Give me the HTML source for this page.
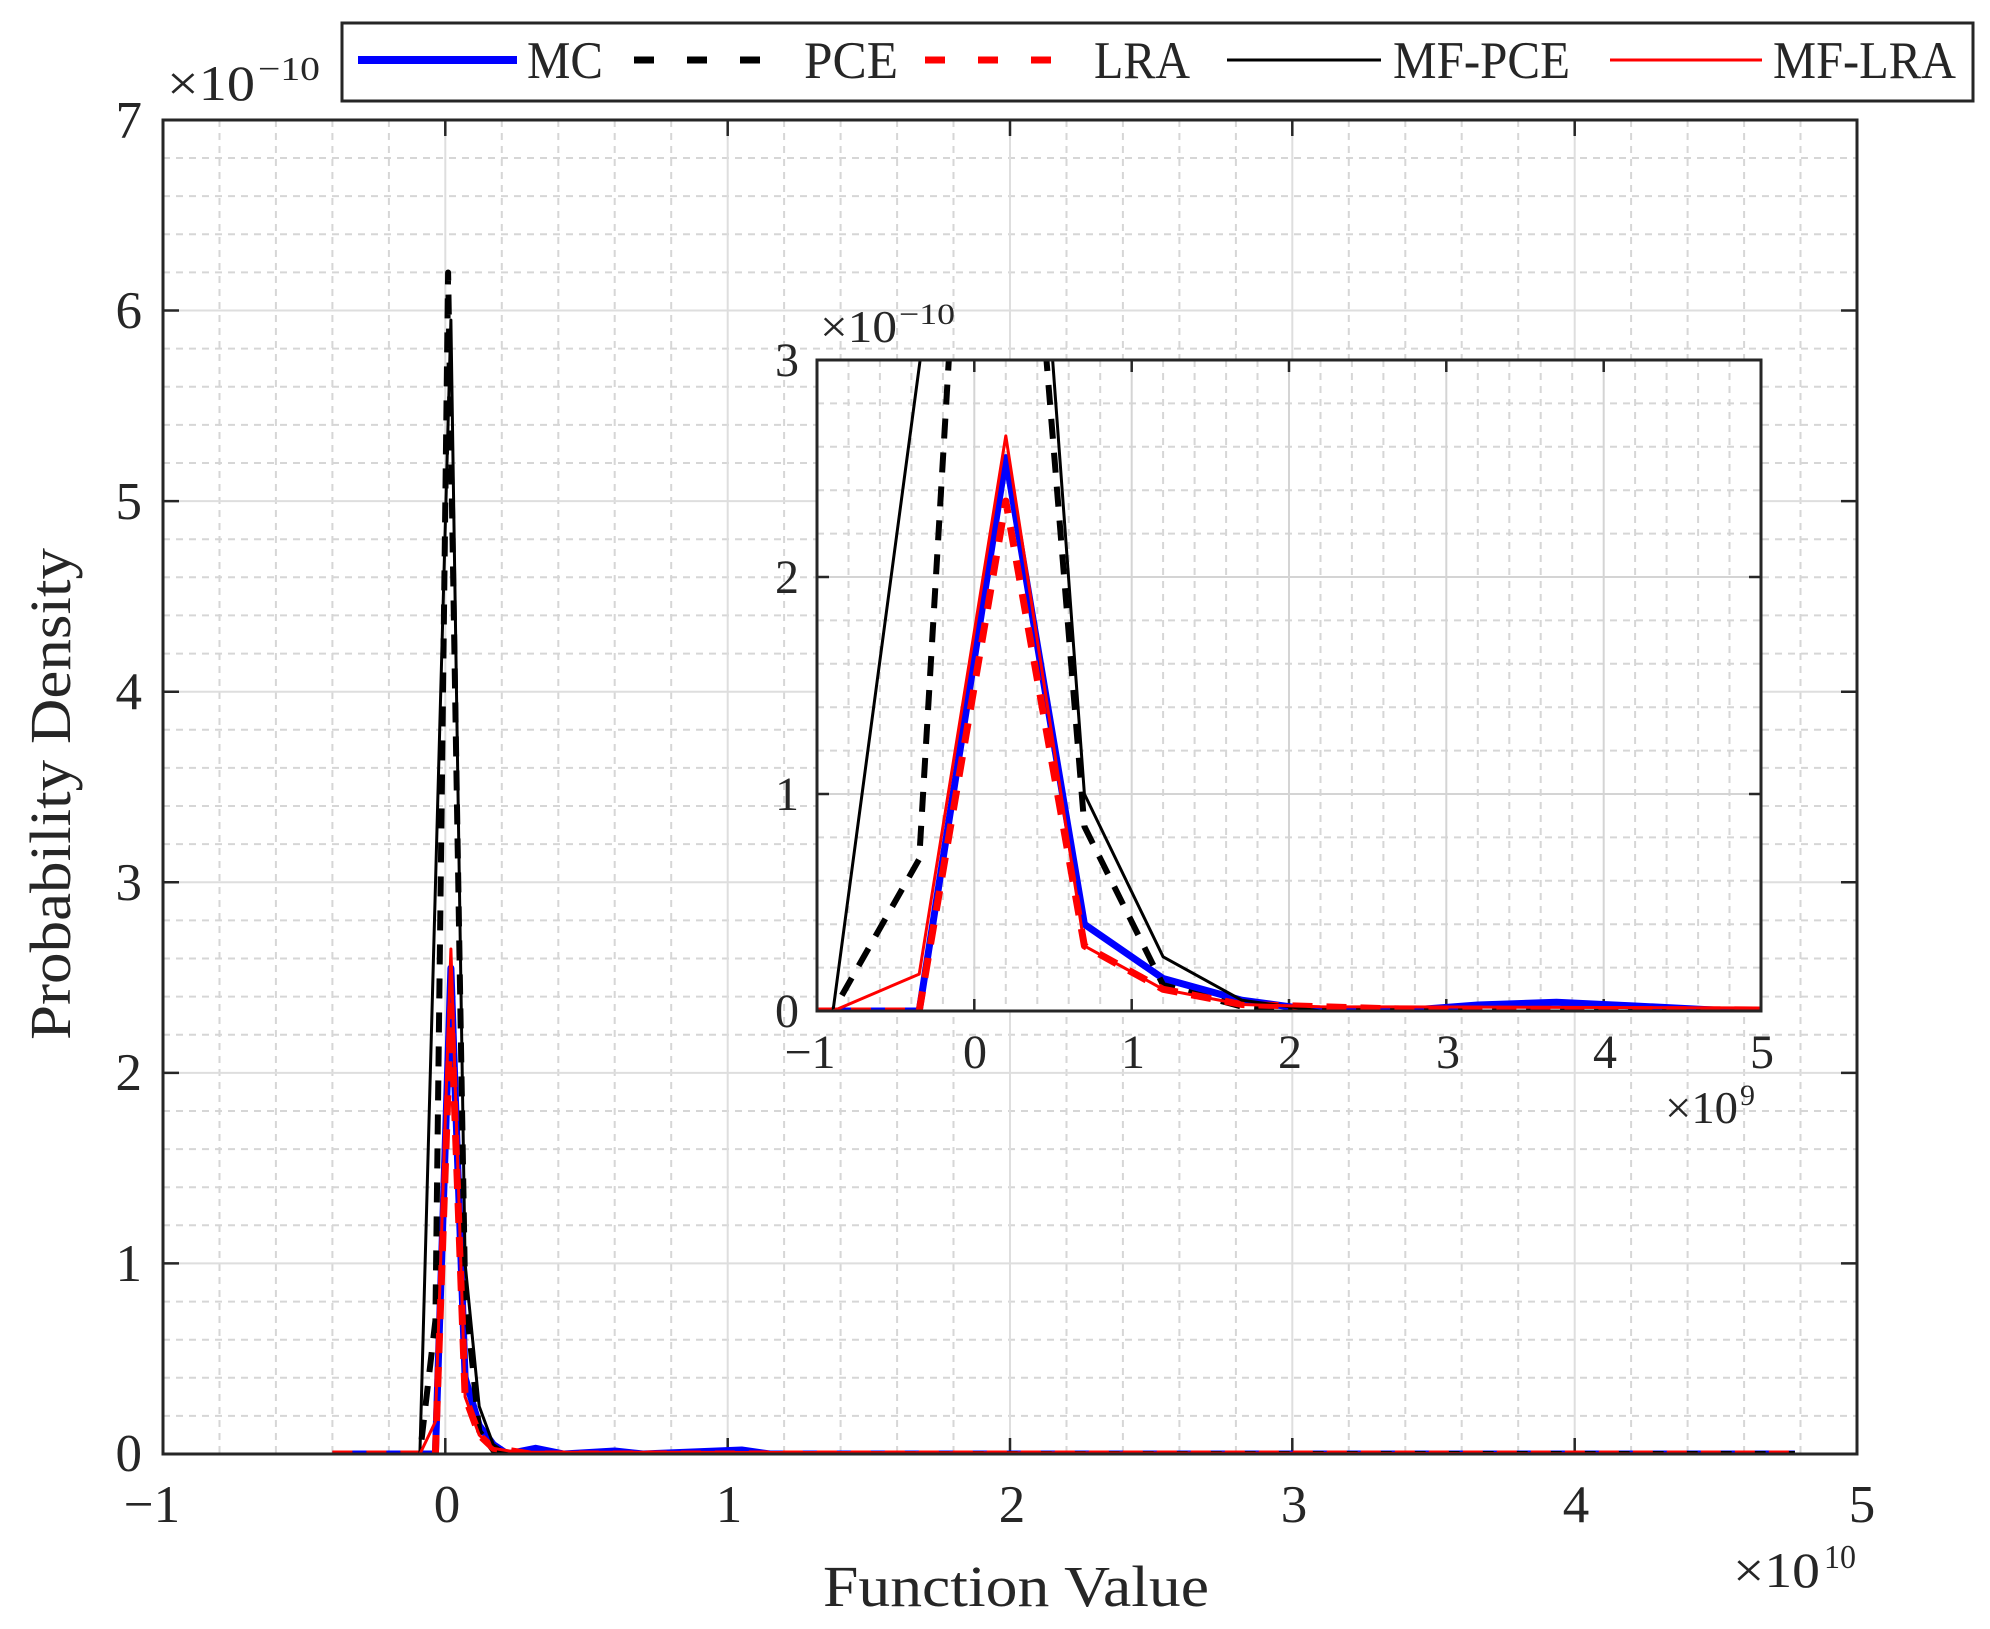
<!DOCTYPE html>
<html><head><meta charset="utf-8"><style>
html,body{margin:0;padding:0;background:#fff;}
svg{display:block;}
text{font-family:"Liberation Serif",serif;fill:#262626;}
</style></head><body>
<svg width="1990" height="1629" viewBox="0 0 1990 1629" xmlns="http://www.w3.org/2000/svg">
<defs>
<clipPath id="cm"><rect x="163" y="120" width="1694" height="1334"/></clipPath>
<clipPath id="ci"><rect x="817" y="360" width="944" height="651"/></clipPath>
</defs>
<rect width="1990" height="1629" fill="#fff"/>
<path stroke="#d6d6d6" stroke-width="2" stroke-dasharray="7,6" fill="none" d="
M219.5,120V1454 M275.9,120V1454 M332.4,120V1454 M388.9,120V1454 M501.8,120V1454 M558.3,120V1454 M614.7,120V1454 M671.2,120V1454 M784.1,120V1454 M840.6,120V1454 M897.1,120V1454 M953.5,120V1454 M1066.5,120V1454 M1122.9,120V1454 M1179.4,120V1454 M1235.9,120V1454 M1348.8,120V1454 M1405.3,120V1454 M1461.7,120V1454 M1518.2,120V1454 M1631.1,120V1454 M1687.6,120V1454 M1744.1,120V1454 M1800.5,120V1454
M163,1415.9H1857 M163,1377.8H1857 M163,1339.7H1857 M163,1301.6H1857 M163,1225.3H1857 M163,1187.2H1857 M163,1149.1H1857 M163,1111H1857 M163,1034.7H1857 M163,996.6H1857 M163,958.5H1857 M163,920.4H1857 M163,844.1H1857 M163,806H1857 M163,767.9H1857 M163,729.8H1857 M163,653.6H1857 M163,615.4H1857 M163,577.3H1857 M163,539.2H1857 M163,463H1857 M163,424.9H1857 M163,386.7H1857 M163,348.6H1857 M163,272.4H1857 M163,234.3H1857 M163,196.1H1857 M163,158H1857"/>
<path stroke="#dedede" stroke-width="2" fill="none" d="M445.3,120V1454 M727.7,120V1454 M1010,120V1454 M1292.3,120V1454 M1574.7,120V1454 M163,1263.4H1857 M163,1072.9H1857 M163,882.3H1857 M163,691.7H1857 M163,501.1H1857 M163,310.5H1857"/>
<path stroke="#262626" stroke-width="2.5" fill="none" d="M445.3,1454v-16 M727.7,1454v-16 M1010,1454v-16 M1292.3,1454v-16 M1574.7,1454v-16 M445.3,120v16 M727.7,120v16 M1010,120v16 M1292.3,120v16 M1574.7,120v16
M163,1263.4h16 M163,1072.9h16 M163,882.3h16 M163,691.7h16 M163,501.1h16 M163,310.5h16 M1857,1263.4h-16 M1857,1072.9h-16 M1857,882.3h-16 M1857,691.7h-16 M1857,501.1h-16 M1857,310.5h-16"/>
<g clip-path="url(#cm)" fill="none" stroke-linejoin="round">
<polyline stroke="#0000ff" stroke-width="7" points="332.4,1454 435.4,1454 450.9,968.1 465.1,1377.8 479.2,1425.4 493.3,1444.5 507.4,1454 535.6,1448.3 563.9,1454 614.7,1451 643,1454 741.7,1450 770,1454 1794.9,1454"/>
<polyline stroke="#000" stroke-width="6" stroke-dasharray="20,14" points="332.4,1454 419.9,1454 435.4,1320.6 448.1,272.5 465.1,1292 479.2,1431.1 493.3,1450.2 507.4,1454 1794.9,1454"/>
<polyline stroke="#ff0000" stroke-width="7" stroke-dasharray="20,14" points="332.4,1454 435.4,1454 450.9,1006.2 465.1,1396.8 479.2,1435 493.3,1448.3 507.4,1450.2 530,1454 1794.9,1454"/>
<polyline stroke="#000" stroke-width="3" points="332.4,1454 419.9,1454 450.9,320.1 465.1,1263.4 479.2,1406.4 493.3,1444.5 507.4,1454 1794.9,1454"/>
<polyline stroke="#ff0000" stroke-width="3" points="332.4,1454 419.9,1454 435.4,1421.6 450.9,949 465.1,1396.8 479.2,1435 493.3,1448.3 515.9,1452.1 1794.9,1454"/>
</g>
<rect x="163" y="120" width="1694" height="1334" fill="none" stroke="#262626" stroke-width="3"/>
<g font-size="53" text-anchor="end">
<text x="142" y="1471">0</text><text x="142" y="1281">1</text><text x="142" y="1090">2</text><text x="142" y="900">3</text><text x="142" y="709">4</text><text x="142" y="519">5</text><text x="142" y="328">6</text><text x="142" y="138">7</text>
</g>
<g font-size="53" text-anchor="middle">
<text x="152" y="1522">−1</text><text x="447" y="1522">0</text><text x="729" y="1522">1</text><text x="1012" y="1522">2</text><text x="1294" y="1522">3</text><text x="1576" y="1522">4</text><text x="1862" y="1522">5</text>
</g>
<text x="167" y="100" font-size="50" textLength="88" lengthAdjust="spacingAndGlyphs">×10</text><text x="258" y="80" font-size="34" textLength="62" lengthAdjust="spacingAndGlyphs">−10</text>
<text x="1733" y="1587" font-size="50" textLength="87" lengthAdjust="spacingAndGlyphs">×10</text><text x="1824" y="1568" font-size="34" textLength="32" lengthAdjust="spacingAndGlyphs">10</text>
<text x="823" y="1606" font-size="58" textLength="386" lengthAdjust="spacingAndGlyphs">Function Value</text>
<text x="0" y="0" font-size="58" text-anchor="middle" textLength="492" lengthAdjust="spacingAndGlyphs" transform="translate(70,794) rotate(-90)">Probability Density</text>
<rect x="817" y="360" width="944" height="651" fill="#fff"/>
<path stroke="#d6d6d6" stroke-width="2" stroke-dasharray="7,6" fill="none" d="
M848.5,360V1011 M879.9,360V1011 M911.4,360V1011 M942.9,360V1011 M1005.8,360V1011 M1037.3,360V1011 M1068.7,360V1011 M1100.2,360V1011 M1163.1,360V1011 M1194.6,360V1011 M1226.1,360V1011 M1257.5,360V1011 M1320.5,360V1011 M1351.9,360V1011 M1383.4,360V1011 M1414.9,360V1011 M1477.8,360V1011 M1509.3,360V1011 M1540.7,360V1011 M1572.2,360V1011 M1635.1,360V1011 M1666.6,360V1011 M1698.1,360V1011 M1729.5,360V1011
M817,967.6H1761 M817,924.2H1761 M817,880.8H1761 M817,837.4H1761 M817,750.6H1761 M817,707.2H1761 M817,663.8H1761 M817,620.4H1761 M817,533.6H1761 M817,490.2H1761 M817,446.8H1761 M817,403.4H1761"/>
<path stroke="#d4d4d4" stroke-width="2" fill="none" d="M974.3,360V1011 M1131.7,360V1011 M1289,360V1011 M1446.3,360V1011 M1603.7,360V1011 M817,794H1761 M817,577H1761"/>
<path stroke="#262626" stroke-width="2.5" fill="none" d="M974.3,1011v-12 M1131.7,1011v-12 M1289,1011v-12 M1446.3,1011v-12 M1603.7,1011v-12 M974.3,360v12 M1131.7,360v12 M1289,360v12 M1446.3,360v12 M1603.7,360v12 M817,794h12 M817,577h12 M1761,794h-12 M1761,577h-12"/>
<g clip-path="url(#ci)" fill="none" stroke-linejoin="round">
<polyline stroke="#0000ff" stroke-width="7" points="817,1011 919.2,1011 1005.8,457.6 1084.4,924.2 1163.1,978.5 1241.8,1000.2 1320.4,1011 1399.1,1011 1477.8,1005 1556.4,1002.3 1635.1,1006 1713.8,1010 1761,1011"/>
<polyline stroke="#000" stroke-width="6" stroke-dasharray="20,14" points="817,1011 833,1011 919.2,859.1 990,-334.4 1084.4,826.5 1163.1,985 1241.8,1006.7 1320.4,1011 1761,1011"/>
<polyline stroke="#ff0000" stroke-width="7" stroke-dasharray="20,14" points="817,1011 919.2,1011 1005.8,501 1084.4,945.9 1163.1,989.3 1241.8,1004.5 1320.4,1006.7 1399.1,1009 1761,1010"/>
<polyline stroke="#000" stroke-width="3" points="817,1011 833,1011 1005.8,-280 1084.4,794 1163.1,956.8 1241.8,1000.2 1320.4,1011 1761,1011"/>
<polyline stroke="#ff0000" stroke-width="3" points="817,1011 833,1011 919.2,974.1 1005.8,435.9 1084.4,945.9 1163.1,989.3 1241.8,1004.5 1320.4,1006.7 1761,1008"/>
</g>
<rect x="817" y="360" width="944" height="651" fill="none" stroke="#262626" stroke-width="3"/>
<g font-size="48" text-anchor="end">
<text x="799" y="1027">0</text><text x="799" y="810">1</text><text x="799" y="593">2</text><text x="799" y="376">3</text>
</g>
<g font-size="48" text-anchor="middle">
<text x="810" y="1068">−1</text><text x="975" y="1068">0</text><text x="1133" y="1068">1</text><text x="1290" y="1068">2</text><text x="1448" y="1068">3</text><text x="1605" y="1068">4</text><text x="1762" y="1068">5</text>
</g>
<text x="820" y="342" font-size="46" textLength="77" lengthAdjust="spacingAndGlyphs">×10</text><text x="899" y="324" font-size="30" textLength="56" lengthAdjust="spacingAndGlyphs">−10</text>
<text x="1665" y="1123" font-size="46" textLength="73" lengthAdjust="spacingAndGlyphs">×10</text><text x="1740" y="1105" font-size="30">9</text>
<rect x="342" y="23" width="1631" height="78" fill="#fff" stroke="#262626" stroke-width="3"/>
<line x1="358" y1="60" x2="517" y2="60" stroke="#0000ff" stroke-width="8"/>
<text x="527" y="78" font-size="53" textLength="76" lengthAdjust="spacingAndGlyphs">MC</text>
<line x1="634" y1="60" x2="792" y2="60" stroke="#000" stroke-width="7" stroke-dasharray="20,33"/>
<text x="804" y="78" font-size="53" textLength="94" lengthAdjust="spacingAndGlyphs">PCE</text>
<line x1="925" y1="60" x2="1084" y2="60" stroke="#ff0000" stroke-width="7" stroke-dasharray="20,33"/>
<text x="1094" y="78" font-size="53" textLength="96" lengthAdjust="spacingAndGlyphs">LRA</text>
<line x1="1227" y1="60" x2="1381" y2="60" stroke="#000" stroke-width="3"/>
<text x="1393" y="78" font-size="53" textLength="177" lengthAdjust="spacingAndGlyphs">MF-PCE</text>
<line x1="1610" y1="60" x2="1762" y2="60" stroke="#ff0000" stroke-width="3"/>
<text x="1773" y="78" font-size="53" textLength="183" lengthAdjust="spacingAndGlyphs">MF-LRA</text>
</svg>
</body></html>
